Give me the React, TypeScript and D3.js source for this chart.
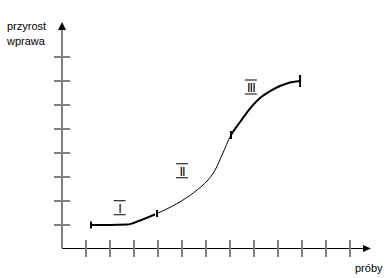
import React from "react";
import * as d3 from "d3";

const W = 387;
const H = 278;

// axis ticks (in "units")
const xTickValues = [1, 2, 3, 4, 5, 6, 7, 8, 9, 10, 11, 12];
const yTickValues = [1, 2, 3, 4, 5, 6, 7, 8];

// learning curve (x in próby units, y in wprawa units)
const curveX = [1.21, 2.0, 2.71, 3.25, 3.96, 5.04, 5.63, 6.04, 6.38, 6.67, 7.04, 7.42, 7.83, 8.25, 8.67, 9.08, 9.5, 9.92];
const curveY = [1.0, 1.0, 1.02, 1.19, 1.48, 2.04, 2.46, 2.83, 3.29, 3.92, 4.75, 5.29, 5.85, 6.29, 6.58, 6.79, 6.94, 7.0];
// phase boundaries along x
const phaseStart = [1.21, 3.96, 7.04];
const phaseEnd = [3.96, 7.04, 9.92];
const phaseThick = [true, false, true];

// phase labels
const phaseLabels = ["I", "II", "III"];
const phaseX = [2.4, 5.0, 7.87];
const phaseY = [1.72, 3.26, 6.75];

const yLabelLines = ["przyrost", "wprawa"];
const xLabel = "próby";

export default function App() {
  const x = d3.scaleLinear().domain([0, 12]).range([62, 350]);
  const y = d3.scaleLinear().domain([0, 8]).range([249, 57]);

  const pts = curveX.map((v, i) => [v, curveY[i]] as [number, number]);
  const line = d3
    .line<[number, number]>()
    .x((d) => x(d[0]))
    .y((d) => y(d[1]))
    .curve(d3.curveMonotoneX);
  const pathD = line(pts) || "";

  const yAt = (v: number) => {
    const i = curveX.indexOf(v);
    return curveY[i];
  };

  const gray = "#808080";
  const font = "'Liberation Sans', Arial, sans-serif";
  const axisY = 248.5;

  const capMarks = [
    { v: phaseStart[0], h: 3.5 },
    { v: phaseEnd[0], h: 3.5 },
    { v: phaseStart[2], h: 4 },
    { v: phaseEnd[2], h: 6 },
  ];

  return (
    <div style={{ position: "absolute", left: 0, top: 0 }}>
      <svg width={W} height={H} style={{ display: "block", background: "#fff" }}>
        <defs>
          {phaseStart.map((s, i) => (
            <clipPath id={"ph-clip-" + i} key={"c" + i}>
              <rect x={x(s) - (i === 0 ? 2 : 0)} y={0} width={x(phaseEnd[i]) - x(s) + (i === 2 ? 2 : 0)} height={H} />
            </clipPath>
          ))}
        </defs>
        {/* y axis */}
        <line x1={62} x2={62} y1={28} y2={248} stroke={gray} strokeWidth={2} />
        <path d="M62,22 L58,30 L66,30 Z" fill="#000" />
        {yTickValues.map((v) => (
          <line key={"yt" + v} x1={54} x2={70} y1={y(v)} y2={y(v)} stroke={gray} strokeWidth={2} />
        ))}
        {/* x axis */}
        <line x1={62} x2={365} y1={axisY} y2={axisY} stroke="#000" strokeWidth={1} />
        <path d={`M371,${axisY} L363,${axisY - 3.5} L363,${axisY + 3.5} Z`} fill="#000" />
        {xTickValues.map((v) => (
          <line key={"xt" + v} x1={x(v)} x2={x(v)} y1={240} y2={257} stroke={gray} strokeWidth={2} />
        ))}

        {/* curve: phases */}
        {phaseStart.map((s, i) => (
          <path
            key={"seg" + i}
            d={pathD}
            fill="none"
            stroke="#000"
            strokeWidth={phaseThick[i] ? 2 : 1}
            clipPath={`url(#ph-clip-${i})`}
          />
        ))}
        {capMarks.map((c, i) => (
          <line
            key={"cap" + i}
            x1={x(c.v)}
            x2={x(c.v)}
            y1={y(yAt(c.v)) - c.h}
            y2={y(yAt(c.v)) + c.h}
            stroke="#000"
            strokeWidth={2}
          />
        ))}

        {/* phase labels */}
        {phaseLabels.map((t, i) => {
          const cx = x(phaseX[i]);
          const cy = y(phaseY[i]);
          return (
            <g key={"ph" + i}>
              <line x1={cx - 6} x2={cx + 6} y1={cy - 7} y2={cy - 7} stroke="#000" strokeWidth={1} />
              <line x1={cx - 6} x2={cx + 6} y1={cy + 7} y2={cy + 7} stroke="#000" strokeWidth={1} />
              <text
                x={cx}
                y={cy + 5}
                textAnchor="middle"
                fontFamily={font}
                fontSize={13}
                letterSpacing={-1}
                fill="#000"
              >
                {t}
              </text>
            </g>
          );
        })}

        {/* labels */}
        {yLabelLines.map((t, i) => (
          <text key={"yl" + i} x={7} y={29.5 + i * 15.5} fontFamily={font} fontSize={11} fill="#000">
            {t}
          </text>
        ))}
        <text x={355} y={272} fontFamily={font} fontSize={11} fill="#000">
          {xLabel}
        </text>
      </svg>
    </div>
  );
}
